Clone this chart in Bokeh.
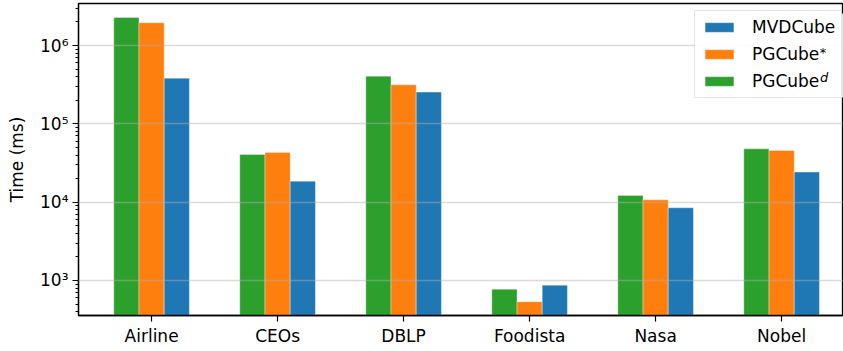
import numpy as np
from bokeh.plotting import figure
from bokeh.models import (ColumnDataSource, Range1d, FixedTicker, Legend, LegendItem,
                          Label, LogTicker, BoxAnnotation)
from bokeh.transform import dodge
from bokeh.embed import file_html
from bokeh.resources import INLINE

datasets = ["Airline", "CEOs", "DBLP", "Foodista", "Nasa", "Nobel"]
pgcube_d = [2.28e6, 4.06e4, 4.06e5, 774, 1.22e4, 4.8e4]
pgcube_star = [1.95e6, 4.31e4, 3.15e5, 535, 1.07e4, 4.57e4]
mvdcube = [3.82e5, 1.85e4, 2.54e5, 871, 8.48e3, 2.42e4]
y_tick_values = [1e3, 1e4, 1e5, 1e6]
y_tick_labels = ["10³", "10⁴", "10⁵", "10⁶"]

FONT = "DejaVu Sans"
BLUE, ORANGE, GREEN = "#1f77b4", "#ff7f0e", "#2ca02c"

src = ColumnDataSource(dict(x=list(range(len(datasets))), d=pgcube_d, s=pgcube_star,
                            m=mvdcube, bottom=[1] * len(datasets)))

p = figure(frame_width=765, frame_height=312, y_axis_type="log",
           x_range=Range1d(-0.58, 5.491), y_range=Range1d(357.4, 3.437e6),
           output_backend="svg", toolbar_location=None,
           min_border_left=78, min_border_right=0, min_border_top=3, min_border_bottom=0)

bar_kw = dict(width=0.2, bottom="bottom", source=src, line_color="white",
              line_alpha=0.35, line_width=1)
r_d = p.vbar(x=dodge("x", -0.2), top="d", fill_color=GREEN, **bar_kw)
r_s = p.vbar(x=dodge("x", 0.0), top="s", fill_color=ORANGE, **bar_kw)
r_m = p.vbar(x=dodge("x", 0.2), top="m", fill_color=BLUE, **bar_kw)

p.outline_line_color = "black"
p.outline_line_width = 1.3
p.xgrid.visible = False
p.ygrid.grid_line_color = "#b0b0b0"
p.ygrid.grid_line_alpha = 0.45
p.ygrid.grid_line_width = 1.5
p.ygrid.level = "guide"

p.xaxis.ticker = FixedTicker(ticks=list(range(len(datasets))))
p.xaxis.major_label_overrides = {i: n for i, n in enumerate(datasets)}
p.xaxis.minor_tick_line_color = None
for ax in (p.xaxis[0], p.yaxis[0]):
    ax.axis_line_color = "black"
    ax.axis_line_width = 1.3
    ax.major_tick_line_color = "black"
    ax.major_tick_line_width = 1.2
    ax.major_tick_out = 6
    ax.major_tick_in = 0
    ax.major_label_text_font = FONT
    ax.major_label_text_font_size = "17px"
    ax.major_label_text_color = "black"
    ax.major_label_standoff = 4

p.yaxis.ticker = LogTicker(num_minor_ticks=10)
p.yaxis.major_label_overrides = {v: t for v, t in zip(y_tick_values, y_tick_labels)}
p.yaxis.minor_tick_line_color = "black"
p.yaxis.minor_tick_out = 3
p.yaxis.minor_tick_in = 0
p.yaxis.axis_label = "Time (ms)"
p.yaxis.axis_label_text_font = FONT
p.yaxis.axis_label_text_font_size = "17px"
p.yaxis.axis_label_text_font_style = "normal"
p.yaxis.axis_label_text_color = "black"
p.yaxis.axis_label_standoff = 10

# white backing for the legend box (legend itself is transparent so superscripts show)
p.add_layout(BoxAnnotation(left=4.31, right=5.6, top=2.56e6, bottom=2.17e5,
                           fill_color="white", fill_alpha=0.9, line_color=None,
                           propagate_hover=False))

legend = Legend(items=[LegendItem(label="MVDCube", renderers=[r_m]),
                       LegendItem(label="PGCube", renderers=[r_s]),
                       LegendItem(label="PGCube", renderers=[r_d])],
                location=(616, 217))
legend.label_text_font = FONT
legend.label_text_font_size = "17px"
legend.label_text_color = "black"
legend.glyph_width = 36
legend.glyph_height = 12
legend.label_height = 20
legend.label_standoff = 15
legend.spacing = 7
legend.padding = 6
legend.margin = 0
legend.border_line_color = "#cccccc"
legend.border_line_width = 1
legend.background_fill_alpha = 0
p.add_layout(legend, "center")

p.add_layout(Label(x=5.303, y=8.2e5, text="*", text_font=FONT, text_font_size="13px",
                   text_baseline="middle", text_color="black", level="overlay"))
p.add_layout(Label(x=5.305, y=3.94e5, text="d", text_font=FONT, text_font_size="13px",
                   text_font_style="italic", text_baseline="middle", text_color="black",
                   level="overlay"))

open("out.html", "w").write(file_html(p, INLINE))
